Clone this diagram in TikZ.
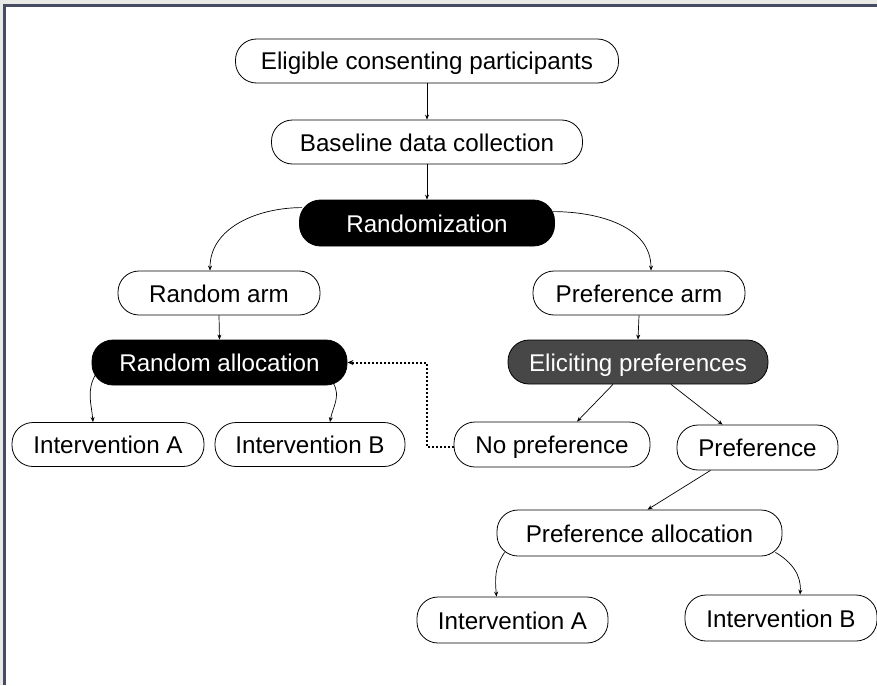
\documentclass[tikz,border=0pt]{standalone}
\usepackage{fontspec}
\setmainfont{Liberation Sans}
\usetikzlibrary{arrows.meta}
\definecolor{framegray}{HTML}{E9E9E6}
\definecolor{frameblue}{HTML}{474C62}
\definecolor{darkbox}{HTML}{474747}
\tikzset{
  pill/.style={draw=black, line width=0.8pt, rounded corners=21pt, fill=white,
    minimum height=44pt, inner xsep=0pt, text height=20pt, text depth=2pt,
    font=\fontsize{24.2}{26}\selectfont},
  pilldark/.style={pill, fill=black, text=white},
  pillgray/.style={pill, fill=darkbox, text=white},
  link/.style={draw=black, line width=0.7pt, -{Stealth[length=5pt,width=4pt]}},
  dotlink/.style={draw=black, line width=2pt, dash pattern=on 2pt off 2pt,
    -{Stealth[length=6pt,width=5pt]}},
}
\begin{document}
\begin{tikzpicture}[x=1pt, y=-1pt]
  \useasboundingbox (0,0) rectangle (877,685);
  % window frame
  \fill[framegray] (0,0) rectangle (877,4.5);
  \fill[frameblue] (0,4.5) rectangle (877,7.5);
  \fill[framegray] (0,0) rectangle (3,685);
  \fill[frameblue] (3,4.5) rectangle (5.5,685);

  % nodes
  \node[pill, minimum width=383pt] (elig) at (427,61) {Eligible consenting participants};
  \node[pill, minimum width=311pt] (base) at (427,142) {Baseline data collection};
  \node[pilldark, minimum width=255pt, minimum height=46pt] (rand) at (427,223) {Randomization};
  \node[pill, minimum width=202pt] (rarm) at (219,293) {Random arm};
  \node[pill, minimum width=212pt] (parm) at (639,293) {Preference arm};
  \node[pilldark, minimum width=255pt, minimum height=45pt] (ralloc) at (219.5,362.5) {Random allocation};
  \node[pillgray, minimum width=260pt] (elicit) at (638,362) {Eliciting preferences};
  \node[pill, minimum width=192pt] (ria) at (108,444.5) {Intervention A};
  \node[pill, minimum width=190pt] (rib) at (310,444.5) {Intervention B};
  \node[pill, minimum width=196pt, minimum height=45pt] (nopref) at (552,444.5) {No preference};
  \node[pill, minimum width=161pt, minimum height=45pt] (pref) at (757.5,447.5) {Preference};
  \node[pill, minimum width=285pt, minimum height=46pt] (palloc) at (639.5,533) {Preference allocation};
  \node[pill, minimum width=191pt, minimum height=46pt] (pia) at (512.5,620) {Intervention A};
  \node[pill, minimum width=192pt, minimum height=46pt] (pib) at (781,618) {Intervention B};

  % connectors (shifts are in page points: positive yshift moves up)
  \draw[link] (elig.south) -- (base.north);
  \draw[link] (base.south) -- (rand.north);
  \draw[link] ([xshift=3pt,yshift=-8pt]rand.north west) to[out=180, in=90] ([xshift=-9pt]rarm.north);
  \draw[link] ([xshift=-2pt,yshift=-12pt]rand.north east) to[out=0, in=90] ([xshift=12pt]parm.north);
  \draw[link] (rarm.south) -- (ralloc.north);
  \draw[link] (parm.south) -- (elicit.north);
  \draw[link] ([xshift=4pt,yshift=-12pt]ralloc.west) to[out=-120, in=95] ([xshift=-15pt]ria.north);
  \draw[link] ([xshift=-14pt,yshift=2pt]ralloc.south east) to[out=-60, in=80] ([xshift=20pt]rib.north);
  \draw[link] ([xshift=-25pt]elicit.south) -- ([xshift=25pt]nopref.north);
  \draw[link] ([xshift=33pt]elicit.south) -- ([xshift=-35pt]pref.north);
  \draw[dotlink] ([yshift=-2.5pt]nopref.west) coordinate (dots) -| (427,362.5) coordinate (dotc) -- (ralloc.east);
  \draw[link] ([xshift=-47pt]pref.south) -- ([xshift=8pt]palloc.north);
  \draw[link] ([xshift=8pt,yshift=4pt]palloc.south west) to[out=-125, in=95] ([xshift=-16pt]pia.north);
  \draw[link] ([xshift=-7pt,yshift=4pt]palloc.south east) to[out=-30, in=85] ([xshift=19pt]pib.north);
\end{tikzpicture}
\end{document}
